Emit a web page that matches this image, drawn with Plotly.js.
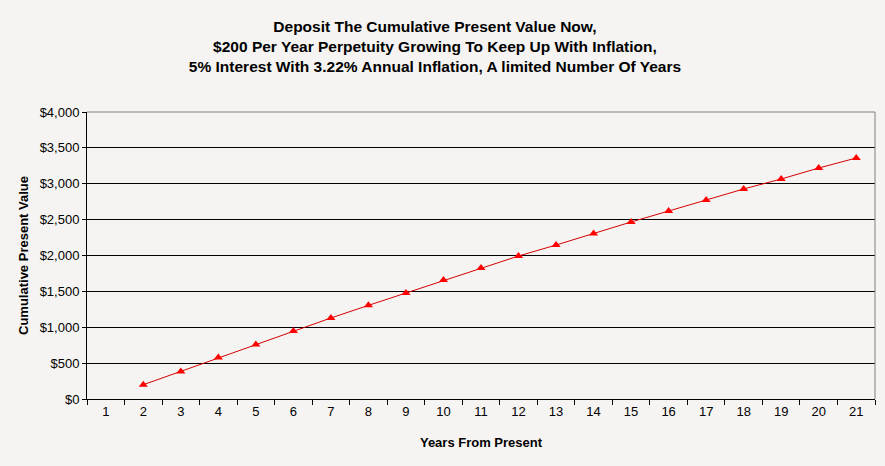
<!DOCTYPE html>
<html><head><meta charset="utf-8">
<script src="https://cdn.plot.ly/plotly-3.0.1.min.js"></script>
<style>html,body{margin:0;padding:0;background:#f5f4f2;}</style>
</head><body>
<div id="chart" style="width:885px;height:466px;"></div>
<script>
var categories = ["1","2","3","4","5","6","7","8","9","10","11","12","13","14","15","16","17","18","19","20","21"];
var years = ["2","3","4","5","6","7","8","9","10","11","12","13","14","15","16","17","18","19","20","21"];
var cumulativePV = [199,385,580,761,947,1129,1305,1477,1658,1826,1993,2146,2308,2467,2620,2773,2927,3066,3219,3359];
var yTicks = [0,500,1000,1500,2000,2500,3000,3500,4000];
var yTickLabels = ["$0","$500","$1,000","$1,500","$2,000","$2,500","$3,000","$3,500","$4,000"];

var trace = {
  x: years, y: cumulativePV, type: 'scatter', mode: 'lines+markers',
  line: {color: '#d40000', width: 1},
  marker: {symbol: 'triangle-up', size: 8, color: '#ff0000'},
  hoverinfo: 'x+y'
};
var layout = {
  width: 885, height: 466,
  paper_bgcolor: '#f5f4f2', plot_bgcolor: '#f5f4f2',
  margin: {l: 87, r: 10, t: 112, b: 67},
  font: {family: 'Liberation Sans, Arial, sans-serif', color: '#000'},
  title: {
    text: '<b>Deposit The Cumulative Present Value Now,<br>$200 Per Year Perpetuity Growing To Keep Up With Inflation,<br>5% Interest With 3.22% Annual Inflation, A limited Number Of Years</b>',
    font: {size: 15.5, color: '#000'}, x: 0.4915, xanchor: 'center', y: 0.931, yanchor: 'middle'
  },
  showlegend: false,
  xaxis: {
    type: 'category', categoryorder: 'array', categoryarray: categories,
    tickmode: 'array', tickvals: categories, ticktext: categories,
    range: [-0.5, 20.5], tickson: 'boundaries',
    ticks: 'outside', ticklen: 5, tickcolor: '#000', tickwidth: 1,
    showline: true, linecolor: '#000', linewidth: 1,
    showgrid: false, zeroline: false,
    tickfont: {size: 13, color: '#000'},
    title: {text: '<b>Years From Present</b>', font: {size: 13, color: '#000'}, standoff: 20}
  },
  yaxis: {
    range: [0, 4000], tickmode: 'array', tickvals: yTicks, ticktext: yTickLabels,
    ticks: 'outside', ticklen: 4, tickcolor: '#000',
    showline: true, linecolor: '#000', linewidth: 1,
    showgrid: true, gridcolor: '#000', gridwidth: 1, zeroline: false,
    tickfont: {size: 13, color: '#000'},
    title: {text: '<b>Cumulative Present Value</b>', font: {size: 13, color: '#000'}, standoff: 8}
  },
  shapes: [
    {type: 'line', xref: 'paper', yref: 'paper', x0: 0, x1: 1, y0: 1, y1: 1, line: {color: '#808080', width: 1}, layer: 'above'},
    {type: 'line', xref: 'paper', yref: 'paper', x0: 1, x1: 1, y0: 0, y1: 1, line: {color: '#808080', width: 1}, layer: 'above'}
  ]
};
Plotly.newPlot('chart', [trace], layout, {displayModeBar: false, staticPlot: true});
</script>
</body></html>
